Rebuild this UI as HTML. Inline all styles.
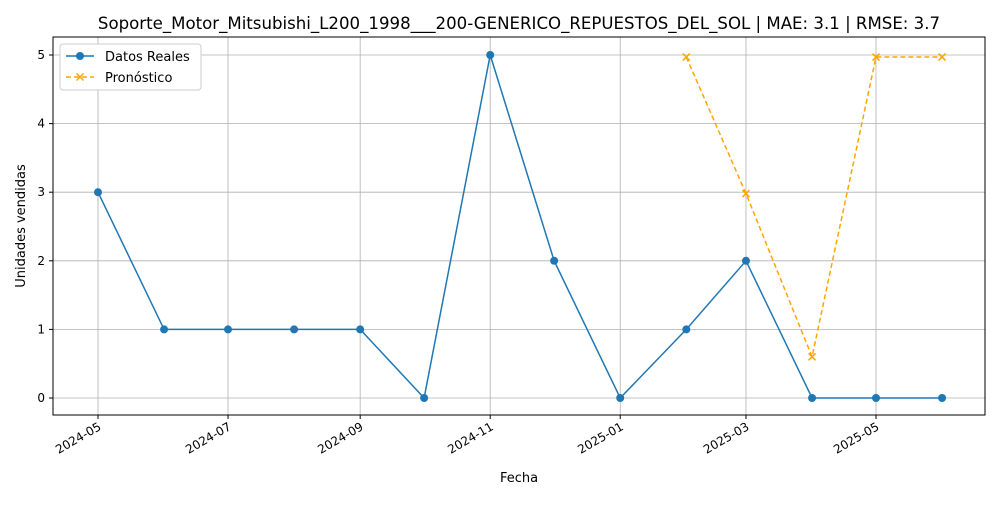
<!DOCTYPE html>
<html><head><meta charset="utf-8"><style>
body{margin:0;background:#fff;font-family:"Liberation Sans","DejaVu Sans",sans-serif}
svg text{font-family:"DejaVu Sans","Liberation Sans",sans-serif}
</style></head><body>
<svg id="chart" width="1000" height="500" xmlns="http://www.w3.org/2000/svg">
<rect width="1000" height="500" fill="#fff"/>
<text x="519" y="29" font-size="16.6" text-anchor="middle">Soporte_Motor_Mitsubishi_L200_1998___200-GENERICO_REPUESTOS_DEL_SOL | MAE: 3.1 | RMSE: 3.7</text>
<g id="grid"></g><g id="axes"></g><g id="series"></g>
<text x="519" y="482" font-size="13" text-anchor="middle">Fecha</text>
<text transform="translate(25,226) rotate(-90)" font-size="13" text-anchor="middle">Unidades vendidas</text>
<g>
<rect x="60" y="44" width="141" height="46" fill="#fff" stroke="#ccc" rx="3"/>
<g><line x1="66" y1="56" x2="94" y2="56" stroke="#1f77b4" stroke-width="1.5"/><circle cx="80" cy="56" r="4" fill="#1f77b4"/><text x="105" y="61" font-size="13">Datos Reales</text></g>
<g><line x1="66" y1="77" x2="94" y2="77" stroke="orange" stroke-width="1.5" stroke-dasharray="5,3"/><path d="M76.5,73.5L83.5,80.5M76.5,80.5L83.5,73.5" stroke="orange" stroke-width="1.5"/><text x="105" y="82" font-size="13">Pronóstico</text></g>
</g>
</svg>
<script>
const realDates=["2024-05","2024-06","2024-07","2024-08","2024-09","2024-10","2024-11","2024-12","2025-01","2025-02","2025-03","2025-04","2025-05","2025-06"];
const realValues=[3,1,1,1,1,0,5,2,0,1,2,0,0,0];
const fcDates=["2025-02","2025-03","2025-04","2025-05","2025-06"];
const fcValues=[4.97,2.98,0.6,4.97,4.97];
const xTicks=["2024-05","2024-07","2024-09","2024-11","2025-01","2025-03","2025-05"];
const yTicks=[0,1,2,3,4,5];
const NS="http://www.w3.org/2000/svg";
const L=53,R=985,T=37,B=415;
function d(s){const p=s.split("-");return Date.UTC(+p[0],+p[1]-1,1)/864e5;}
const d0=d("2024-05"),d1=d("2025-05");
function x(s){return 98+(d(s)-d0)*(876-98)/(d1-d0);}
function y(v){return 398-v*(398-55)/5;}
function el(t,a,p){const e=document.createElementNS(NS,t);for(const k in a)e.setAttribute(k,a[k]);p.appendChild(e);return e;}
const g=document.getElementById("grid"),ax=document.getElementById("axes"),s=document.getElementById("series");
xTicks.forEach(t=>{const X=x(t);
const gl=el("line",{x1:X,x2:X,y1:T,y2:B,stroke:"#b0b0b0","stroke-width":0.8},g);


el("line",{x1:X,x2:X,y1:B,y2:B+4,stroke:"#000"},ax);
const tx=el("text",{x:0,y:0,"font-size":12,"text-anchor":"end",transform:`translate(${X+4},${B+14}) rotate(-30)`},ax);tx.textContent=t;

});
yTicks.forEach(v=>{const Y=y(v);
const gl=el("line",{x1:L,x2:R,y1:Y,y2:Y,stroke:"#b0b0b0","stroke-width":0.8},g);


el("line",{x1:L-4,x2:L,y1:Y,y2:Y,stroke:"#000"},ax);
const tx=el("text",{x:L-8,y:Y+4,"font-size":12,"text-anchor":"end"},ax);tx.textContent=v;

});
el("rect",{x:L,y:T,width:R-L,height:B-T,fill:"none",stroke:"#000","stroke-width":1},ax);
const rl=el("polyline",{points:realDates.map((t,i)=>x(t)+","+y(realValues[i])).join(" "),fill:"none",stroke:"#1f77b4","stroke-width":1.5},s);


realDates.forEach((t,i)=>{const c=el("circle",{cx:x(t),cy:y(realValues[i]),r:4,fill:"#1f77b4"},s);

});
const fl=el("polyline",{points:fcDates.map((t,i)=>x(t)+","+y(fcValues[i])).join(" "),fill:"none",stroke:"orange","stroke-width":1.5,"stroke-dasharray":"5,3"},s);


fcDates.forEach((t,i)=>{const X=x(t),Y=y(fcValues[i]);
const m=el("path",{d:`M${X-3.5},${Y-3.5}L${X+3.5},${Y+3.5}M${X-3.5},${Y+3.5}L${X+3.5},${Y-3.5}`,stroke:"orange","stroke-width":1.5},s);

});
</script>
</body></html>
